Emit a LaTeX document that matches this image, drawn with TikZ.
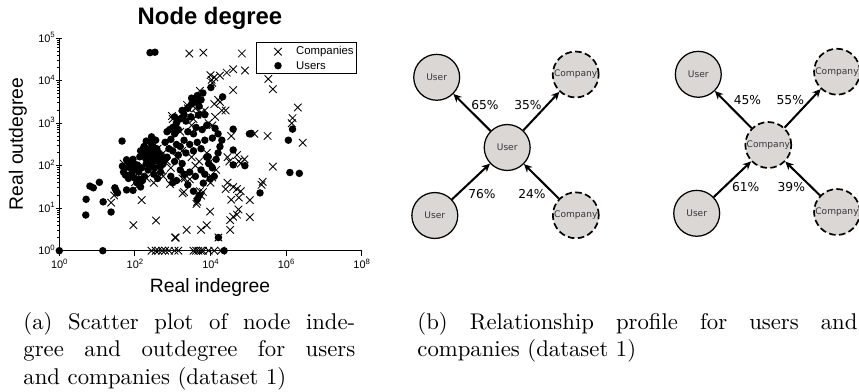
\documentclass[tikz,border=0pt]{standalone}
\usepackage{fontspec}
\newfontfamily\plotfont{Liberation Sans}
\newfontfamily\diafont{DejaVu Sans}
\usetikzlibrary{arrows.meta}

\definecolor{nodefill}{RGB}{219,215,213}
\definecolor{nodetext}{RGB}{55,55,55}

\tikzset{
  axisline/.style={line width=0.65pt},
  usermark/.pic={\fill (0,0) circle (1.65pt);},
  compmark/.pic={\draw[line width=0.38pt] (-1.65pt,-1.65pt) -- (1.65pt,1.65pt) (-1.65pt,1.65pt) -- (1.65pt,-1.65pt);},
  ticklab/.style={font=\plotfont\fontsize{4.8}{5}\selectfont, inner sep=0pt},
  entity/.style={circle, draw, line width=0.55pt, fill=nodefill, minimum size=20.2pt,
    inner sep=0pt, text=nodetext, font=\diafont\fontsize{4}{4}\selectfont},
  usernode/.style={entity},
  compnode/.style={entity, line width=0.75pt, dash pattern=on 2.9pt off 1.5pt},
  rel/.style={-{Stealth[length=3.6pt,width=3.4pt]}, line width=0.9pt},
  pct/.style={font=\diafont\fontsize{5.4}{6}\selectfont, inner sep=0pt},
  capt/.style={align=justify, inner sep=0pt, anchor=north west}
}

\begin{document}
\begin{tikzpicture}[x=0.44pt,y=-0.44pt]
  \useasboundingbox (0,0) rectangle (859,391);

  % scatter plot, log-log, one unit = one decade
  \node[font=\plotfont\bfseries\fontsize{10.5}{12}\selectfont] (title) at (210,18) {Node degree};
  \node[font=\plotfont\fontsize{8.5}{10}\selectfont] (xlabel) at (210,287) {Real indegree};
  \node[font=\plotfont\fontsize{8.5}{10}\selectfont, rotate=90] (ylabel) at (18,144) {Real outdegree};

  \begin{scope}[shift={(59.3,250.7)}, x=16.632pt, y=18.7pt]
    \draw[axisline] (0,5) -- (0,0) -- (8,0);
    \foreach \k in {0,...,5} {
      \draw[line width=0.5pt] (0,\k) ++(-1.4pt,0) -- ++(2.8pt,0);
      \node[ticklab, anchor=base east] (yl\k) at ([xshift=-1.8pt,yshift=-1.7pt]0,\k)
        {10\raisebox{1.9pt}{\fontsize{3.4}{3}\selectfont\k}};
    }
    \foreach \k in {0,...,4}
      \foreach \m in {2,...,9}
        \draw[line width=0.4pt] (0,{\k+log10(\m)}) -- ++(-1.2pt,0);
    \foreach \k in {0,2,4,6,8} {
      \draw[line width=0.5pt] (\k,0) -- ++(0,-2.2pt);
      \node[ticklab, anchor=base] (xl\k) at ([yshift=-8pt]\k,0)
        {10\raisebox{1.9pt}{\fontsize{3.4}{3}\selectfont\k}};
    }

    % companies
    \foreach \a/\b in {3.44/4.64, 3.81/4.66, 4.83/4.64,
      4.91/4.24, 4.60/4.27, 4.43/4.19, 4.25/4.12, 4.10/4.08, 4.03/4.02, 4.00/4.13,
      4.05/3.95, 5.53/4.04, 5.65/3.80, 4.60/3.78, 3.72/3.76,
      3.38/3.43, 3.40/3.35, 3.26/3.20, 2.98/3.17, 3.00/3.10, 3.55/3.10, 3.65/3.20,
      3.75/3.25, 3.85/3.30, 4.10/3.45, 4.20/3.55, 4.25/3.50, 4.30/3.30, 4.12/3.15,
      4.40/3.30, 3.95/3.00, 4.05/2.95, 4.55/2.70, 5.16/2.75, 5.51/2.70, 6.31/3.37,
      6.17/3.12, 6.44/2.54, 6.15/3.00, 3.10/2.95, 3.20/2.80, 3.50/2.95, 3.60/3.35,
      1.37/1.13, 1.96/0.60, 2.56/0.71, 2.18/1.19, 2.31/1.70, 2.00/1.61, 2.93/1.57,
      3.26/1.35, 3.30/1.38, 3.26/1.70, 3.32/1.70, 3.45/1.68, 3.37/0.49, 3.06/0.31,
      3.08/0.31, 3.75/0.49, 3.90/0.60, 3.99/0.92, 3.63/1.10, 3.65/1.15, 3.75/1.30,
      3.80/1.38, 3.72/1.40, 3.95/1.70, 4.05/1.72, 4.00/1.60, 4.52/0.49, 4.52/0.72,
      4.60/0.80, 4.74/0.97, 4.70/0.85, 5.04/0.79, 5.04/1.19, 4.75/1.25, 4.60/1.50,
      4.70/1.45, 4.80/1.40, 5.35/1.55, 5.38/1.62, 5.65/1.98, 4.55/1.20, 4.40/1.45,
      4.45/1.60, 4.21/0.31,
      2.60/2.40, 2.75/2.30, 2.85/2.10, 2.95/1.95, 3.10/2.20, 3.25/2.35, 3.50/2.20,
      3.60/2.00, 3.70/2.10, 3.90/2.30, 4.00/2.10, 4.15/1.90, 4.45/2.20, 4.50/2.10,
      4.70/2.25, 4.75/2.10, 4.80/2.05, 4.90/2.15, 2.40/2.20, 2.20/2.00, 2.10/1.55,
      1.90/1.75, 2.50/1.60, 2.70/1.90, 2.75/1.75, 1.70/2.05, 1.45/1.30,
      2.44/0, 2.55/0, 2.62/0, 2.72/0, 2.80/0, 2.90/0, 3.05/0, 3.15/0, 3.55/0,
      3.62/0, 3.68/0, 3.75/0, 3.80/0, 3.95/0, 4.10/0, 4.28/0}
      \pic at (\a,\b) {compmark};

    % users
    \foreach \a/\b in {0/0, 1.15/0, 4.36/0, 4.21/0.31,
      0.70/0.84, 0.71/1.21, 1.16/1.15, 1.37/0.91, 0.81/1.52, 0.90/1.48, 1.06/1.61,
      1.47/1.48, 1.54/1.36, 1.50/1.42, 1.78/1.43, 1.66/2.58, 1.67/1.99,
      1.70/1.85, 1.75/1.78, 1.72/1.92, 1.80/2.10, 1.85/2.05, 1.88/1.95, 1.90/1.80,
      1.95/2.15, 1.78/2.14, 1.92/2.05, 2.00/1.90, 2.05/2.02, 1.98/1.72, 2.10/1.85,
      1.83/1.70, 2.05/1.60, 2.15/1.50, 2.12/1.68, 1.95/1.42, 2.20/1.65, 2.25/1.75,
      2.30/2.05, 2.35/2.20, 2.40/2.10, 2.45/2.30, 2.50/2.25, 2.55/2.15, 2.60/2.30,
      2.45/2.00, 2.52/1.95, 2.38/2.40, 2.48/2.45, 2.58/2.40, 2.62/2.10, 2.70/2.20,
      2.66/2.00, 2.42/2.55, 2.30/2.35, 2.25/2.45, 2.55/2.60, 2.35/1.90, 2.75/2.05,
      2.80/2.15, 2.68/1.85, 2.50/1.80, 2.60/1.70, 2.44/2.68, 2.20/2.25, 2.15/2.35,
      2.30/2.58, 2.18/1.95, 2.24/2.45, 2.13/2.21, 2.40/2.30, 2.50/2.10, 2.55/2.35,
      2.35/2.05, 2.45/2.15, 2.65/2.25, 2.28/2.18,
      2.80/2.55, 2.85/2.80, 2.92/2.85, 3.00/2.90, 3.05/2.75, 2.95/2.62, 3.10/3.00,
      3.15/2.85, 3.20/3.10, 3.05/3.15, 3.25/3.30, 3.30/3.20, 3.40/3.35, 3.35/3.05,
      3.48/3.15, 3.50/3.45, 3.50/3.59, 3.60/3.50, 3.65/3.65, 3.75/3.55, 3.80/3.71,
      3.70/3.40, 3.68/3.19, 3.24/3.12, 3.85/3.20, 3.90/2.95, 3.78/2.85, 3.62/2.90,
      3.55/2.75, 3.40/2.80, 3.30/2.60, 3.20/2.45, 3.10/2.50, 3.00/2.35, 2.90/2.40,
      2.85/2.20, 3.05/2.10, 3.15/2.25, 3.25/2.05, 3.35/2.30, 3.45/2.50, 3.55/2.35,
      3.65/2.55, 3.75/2.40, 3.85/2.60, 3.90/2.20, 3.94/2.21, 3.95/2.05, 4.01/3.84,
      4.32/3.62, 4.12/2.88, 4.20/2.75, 4.30/2.60, 4.05/2.65, 4.25/2.45, 4.20/2.30,
      4.15/2.15, 4.60/2.86, 4.60/2.37, 4.60/2.02, 4.91/2.00, 5.03/2.75, 5.08/2.76,
      3.99/1.69, 3.81/1.59, 3.65/1.21, 3.70/1.30, 3.55/1.40, 3.40/1.55, 3.30/1.80,
      3.10/1.65, 3.00/1.60, 2.95/1.75, 3.20/1.90, 3.45/1.85, 3.60/1.75, 3.75/1.90,
      3.85/1.80, 4.05/1.95, 4.10/1.75, 5.31/1.36,
      6.06/2.60, 6.17/2.86, 6.10/1.84, 6.35/1.82, 2.40/4.66, 2.53/4.67}
      \pic at (\a,\b) {usermark};
  \end{scope}

  % legend
  \draw[fill=white, line width=0.6pt] (256.7,42.7) rectangle (356.7,73.3);
  \pic at (278,51.7) {compmark};
  \pic at (278,65.7) {usermark};
  \node[font=\plotfont\fontsize{5}{6}\selectfont, anchor=west, inner sep=0pt] (lgcomp) at (295.7,51.7) {Companies};
  \node[font=\plotfont\fontsize{5}{6}\selectfont, anchor=west, inner sep=0pt] (lguser) at (295.7,65.7) {Users};

  % profile of a user
  \node[usernode] (u) at (507.2,147.5) {User};
  \node[usernode] (utl) at (436.7,77.3) {User};
  \node[compnode] (utr) at (575.7,74.5) {Company};
  \node[usernode] (ubl) at (434.8,215.5) {User};
  \node[compnode] (ubr) at (575.8,215.3) {Company};
  \draw[rel] (u) -- (utl);
  \draw[rel] (u) -- (utr);
  \draw[rel] (ubl) -- (u);
  \draw[rel] (ubr) -- (u);
  \node[pct] (p65) at (485,105.3) {65\%};
  \node[pct] (p35) at (528,105.3) {35\%};
  \node[pct] (p76) at (482,194) {76\%};
  \node[pct] (p24) at (532,194) {24\%};

  % profile of a company
  \node[compnode] (c) at (768.3,145) {Company};
  \node[usernode] (ctl) at (698.3,74.3) {User};
  \node[compnode] (ctr) at (837,71.7) {Company};
  \node[usernode] (cbl) at (696.7,213.3) {User};
  \node[compnode] (cbr) at (837,212) {Company};
  \draw[rel] (c) -- (ctl);
  \draw[rel] (c) -- (ctr);
  \draw[rel] (cbl) -- (c);
  \draw[rel] (cbr) -- (c);
  \node[pct] (p45) at (747.5,100.5) {45\%};
  \node[pct] (p55) at (790.3,100.5) {55\%};
  \node[pct] (p61) at (745.7,187.5) {61\%};
  \node[pct] (p39) at (791.3,187.5) {39\%};

  % sub-captions
  \node[capt, text width=146pt] (capa) at (23,312)
    {(a) Scatter plot of node inde-\linebreak gree and outdegree for users\linebreak and companies (dataset 1)};
  \node[capt, text width=193.6pt] (capb) at (417,312)
    {(b) Relationship profile for users and\linebreak companies (dataset 1)};
\end{tikzpicture}
\end{document}
